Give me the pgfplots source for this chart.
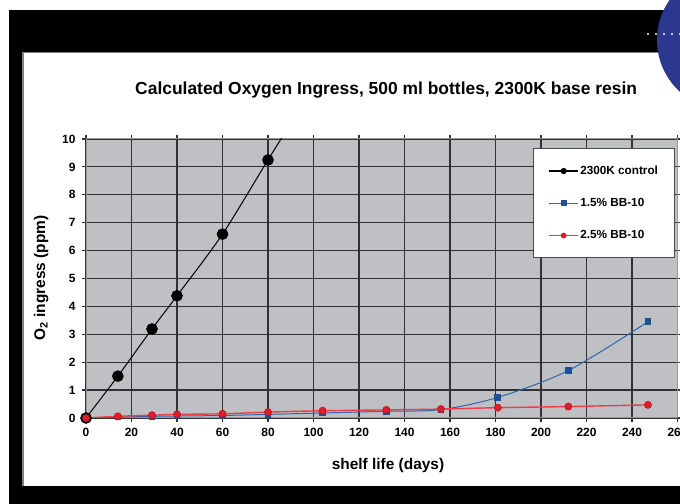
\documentclass[border=0pt]{standalone}
\usepackage{fontspec}
\setmainfont{Liberation Sans}
\usepackage{pgfplots}
\pgfplotsset{compat=1.18}

\definecolor{plotgray}{RGB}{191,192,196}
\definecolor{gridgray}{RGB}{50,50,53}
\definecolor{redline}{RGB}{238,60,72}
\definecolor{redmark}{RGB}{226,28,40}
\definecolor{blueline}{RGB}{45,100,175}
\definecolor{bluemark}{RGB}{25,80,150}
\definecolor{bannerblue}{RGB}{44,56,143}

\begin{document}
\begin{tikzpicture}
% page frame
\path[use as bounding box, clip] (0,0) rectangle (680bp,504bp);
\fill[white] (0,0) rectangle (680bp,504bp);
\fill[black] (9bp,0) rectangle (680bp,494bp);
\fill[white] (22bp,18bp) rectangle (680bp,452bp);
\draw[gray, line width=1.5bp] (22.75bp,18bp) -- (22.75bp,451.25bp) -- (680bp,451.25bp);
\fill[bannerblue] (727bp,464bp) circle (70bp);
\foreach \i in {0,...,4} \fill[white] (648bp+8*\i bp,470bp) circle (1.1bp);

\begin{axis}[
    at={(86bp,86bp)}, anchor=south west,
    scale only axis, width=591.5bp, height=279bp,
    xmin=0, xmax=260, ymin=0, ymax=10,
    xtick={0,20,...,260}, ytick={0,1,...,10},
    grid=major,
    major grid style={draw=gridgray, line width=1.2bp},
    tick align=outside, major tick length=4bp,
    tick style={draw=gridgray, line width=1.2bp},
    axis background/.style={fill=plotgray},
    axis line style={draw=black!40, line width=1bp},
    /pgf/number format/assume math mode=true,
    tick label style={font=\bfseries\fontsize{12}{14}\selectfont},
    xticklabel style={yshift=-3bp},
    yticklabel style={xshift=-3bp},
    title={\bfseries Calculated Oxygen Ingress, 500 ml bottles, 2300K base resin},
    title style={at={(axis description cs:0.5075,1.155)}, anchor=center,
        font=\fontsize{17.5}{20}\selectfont},
    xlabel={\bfseries shelf life (days)},
    xlabel style={at={(axis description cs:0.5106,-0.172)}, anchor=center,
        font=\fontsize{15.5}{18}\selectfont},
    ylabel={\bfseries O\textsubscript{2} ingress (ppm)},
    ylabel style={at={(axis description cs:-0.076,0.502)}, anchor=center,
        font=\fontsize{15.5}{18}\selectfont},
    legend style={at={(rel axis cs:0.9958,0.9677)}, anchor=north east,
        draw=black!70, line width=1bp, fill=white,
        inner xsep=15bp, inner ysep=16bp, row sep=19.5bp,
        nodes={inner sep=1.5bp, font=\bfseries\fontsize{11.8}{13}\selectfont}},
    legend cell align=left,
    legend image code/.code={%
        \draw[#1] (0bp,0bp) -- (29bp,0bp);
        \draw[#1, mark indices={1}] plot coordinates {(14.5bp,0bp)};},
    legend image post style={mark size=2.5bp, line width=1.2bp},
]
\addplot[black, line width=1bp, smooth, tension=0.5,
    mark=*, mark size=5.3bp, mark options={fill=black},
    mark indices={1,2,3,4,5,6}] coordinates {
    (0,0) (14,1.5) (29,3.19) (40,4.38) (60,6.59) (80,9.25) (104,12.4)
};
\addlegendentry{2300K control}

\addplot[blueline, line width=1bp, smooth, tension=0.5,
    mark=square*, mark size=2.8bp, mark options={fill=bluemark, draw=bluemark}] coordinates {
    (0,0) (14,0.03) (29,0.06) (40,0.07) (60,0.09) (80,0.13) (104,0.18)
    (132,0.24) (156,0.30) (181,0.74) (212,1.70) (247,3.45)
};
\addlegendentry{1.5\% BB-10}

\addplot[redline, line width=1.4bp, smooth, tension=0.5,
    mark=*, mark size=3.6bp, mark options={fill=redmark, draw=redmark!80!black, line width=0.6bp}] coordinates {
    (0,0) (14,0.06) (29,0.10) (40,0.13) (60,0.15) (80,0.21) (104,0.26)
    (132,0.29) (156,0.32) (181,0.37) (212,0.41) (247,0.47)
};
\addlegendentry{2.5\% BB-10}
\end{axis}
\end{tikzpicture}
\end{document}
